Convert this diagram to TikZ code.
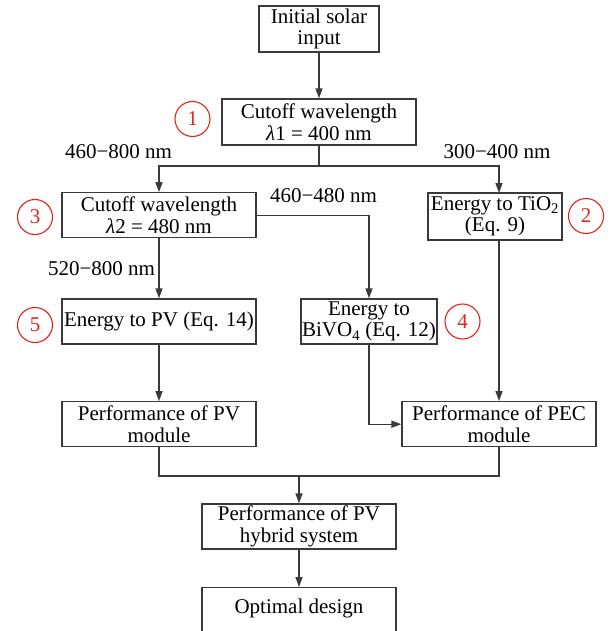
\documentclass[tikz,border=0pt]{standalone}
\usepackage{fontspec}
\setmainfont{Liberation Serif}
\usetikzlibrary{arrows.meta,calc}
\definecolor{linegray}{HTML}{3A3A3A}
\definecolor{numred}{HTML}{E5231B}
\begin{document}
\begin{tikzpicture}[x=1pt,y=-1pt,
  font=\fontsize{21}{21.5}\selectfont,
  box/.style={draw=linegray,line width=1.3pt,fill=white,minimum height=45pt,inner sep=0pt,align=center},
  conn/.style={draw=linegray,line width=1.4pt},
  arr/.style={conn,-{Triangle[width=7pt,length=10pt]}},
  num/.style={circle,draw=numred,line width=1.1pt,text=numred,minimum size=35pt,inner sep=0pt},
  lab/.style={inner sep=0pt}]
\clip (0,0) rectangle (613,631);
\fill[white] (0,0) rectangle (613,631);
% boxes
\node[box,minimum width=120pt,minimum height=46pt] (init) at (319,29) {Initial solar\\input};
\node[box,minimum width=194pt,minimum height=46pt] (cut1) at (319,122) {Cutoff wavelength\\\textit{λ}1 = 400 nm};
\node[box,minimum width=194pt] (cut2) at (159,215.2) {Cutoff wavelength\\\textit{λ}2 = 480 nm};
\node[box,minimum width=134pt,minimum height=47pt] (tio2) at (495,216.5) {Energy to TiO\textsubscript{2}\\(Eq. 9)};
\node[box,minimum width=194pt] (pv) at (159,321.5) {Energy to PV (Eq. 14)};
\node[box,minimum width=136pt] (bivo4) at (369,321.5) {Energy to\\BiVO\textsubscript{4} (Eq. 12)};
\node[box,minimum width=194pt] (pvm) at (159,424.2) {Performance of PV\\module};
\node[box,minimum width=194pt] (pec) at (499,424.2) {Performance of PEC\\module};
\node[box,minimum width=194pt] (hyb) at (299,526.5) {Performance of PV\\hybrid system};
\node[box,minimum width=194pt,minimum height=100pt,anchor=north] (opt) at (299,587) {};
\node[lab] (opttext) at (299,608) {Optimal design};
% numbered circles
\node[num] (n1) at (192.5,119) {1};
\node[num] (n2) at (586,216) {2};
\node[num] (n3) at (35,217) {3};
\node[num] (n4) at (462.5,321.5) {4};
\node[num] (n5) at (35,325) {5};
% labels
\node[lab] (l1) at (118.5,152) {460−800 nm};
\node[lab] (l2) at (497,152) {300−400 nm};
\node[lab] (l3) at (323.5,196) {460−480 nm};
\node[lab] (l4) at (101.5,269) {520−800 nm};
% junctions
\coordinate (j1) at (319,166);
\coordinate (j2) at (299,476);
\coordinate (tioin) at (499,193);
\coordinate (tioout) at (499,240);
% connectors
\draw[arr] (init.south) -- (cut1.north);
\draw[conn] (cut1.south) -- (j1);
\draw[arr] (j1) -| (cut2.north);
\draw[arr] (j1) -| (tioin);
\draw[arr] (cut2.east) -| (bivo4.north);
\draw[arr] (cut2.south) -- (pv.north);
\draw[arr] (tioout) -- (pec.north);
\draw[arr] (pv.south) -- (pvm.north);
\draw[arr] (bivo4.south) |- (pec.west);
\draw[conn] (pvm.south) |- (j2);
\draw[conn] (pec.south) |- (j2);
\draw[arr] (j2) -- (hyb.north);
\draw[arr] (hyb.south) -- (opt.north);
\end{tikzpicture}
\end{document}
